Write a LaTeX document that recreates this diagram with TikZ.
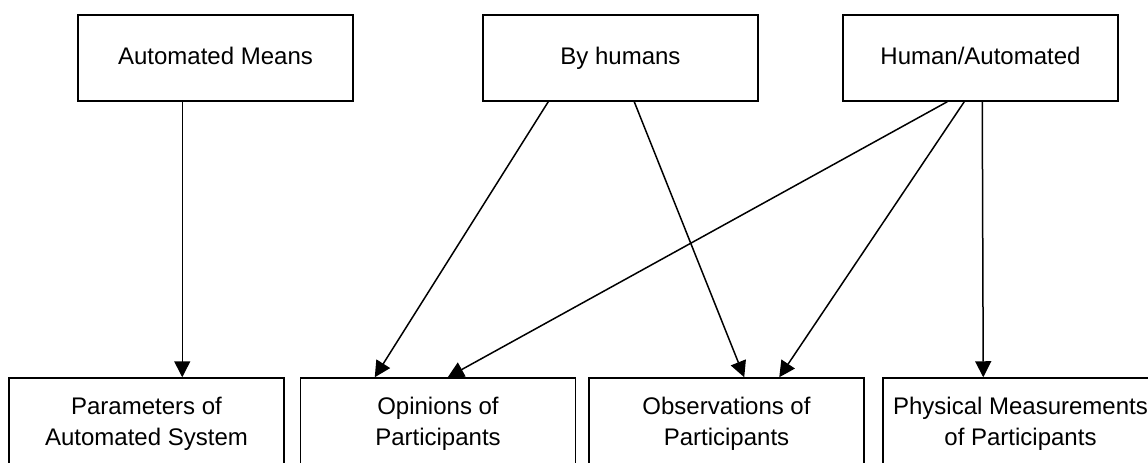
\documentclass[tikz,border=0pt]{standalone}
\usepackage{fontspec}
\setmainfont{Liberation Sans}
\usetikzlibrary{arrows.meta, calc}

\begin{document}
\begin{tikzpicture}[x=0.5pt, y=-0.5pt, -{Triangle[length=8pt, width=8pt]}, line width=0.75pt,
		every node/.style={font=\fontsize{12}{15.5}\selectfont},
		box/.style={draw, rectangle, inner sep=0pt, minimum width=137.5pt, align=center},
		source/.style={box, minimum height=43pt, text height=8.7pt, text depth=2.6pt}]
		\useasboundingbox (0, 0) rectangle (1148, 462);
		\node[source] (0) at (215.5, 58) {Automated Means};
		\node[source] (1) at (620.5, 58) {By humans};
		\node[source] (2) at (980.5, 58) {Human/Automated};
		
		\node[box, minimum height=46pt] (3) at (146.5, 424) {Parameters of\\Automated System};
		\node[box, minimum height=46pt] (4) at (438, 424) {Opinions of\\Participants};
		\node[box, minimum height=46pt] (5) at (726.5, 424) {Observations of\\Participants};
		\node[box, minimum height=46pt] (6) at (1020.5, 424) {Physical Measurements\\of Participants};
		
		\draw ($(0.south west)+(105, 0)$) -- ($(3.north west)+(174, 0)$);
		\draw ($(1.south west)+(66, 0)$) -- ($(4.north west)+(75, 0)$);
		\draw ($(1.south west)+(152, 0)$) -- ($(5.north west)+(156, 0)$);
		\draw ($(2.south west)+(105, 0)$) -- ($(4.north west)+(148, 0)$);
		\draw ($(2.south west)+(122, 0)$) -- ($(5.north west)+(191, 0)$);
		\draw ($(2.south west)+(140, 0)$) -- ($(6.north west)+(101, 0)$);
	\end{tikzpicture}
\end{document}
